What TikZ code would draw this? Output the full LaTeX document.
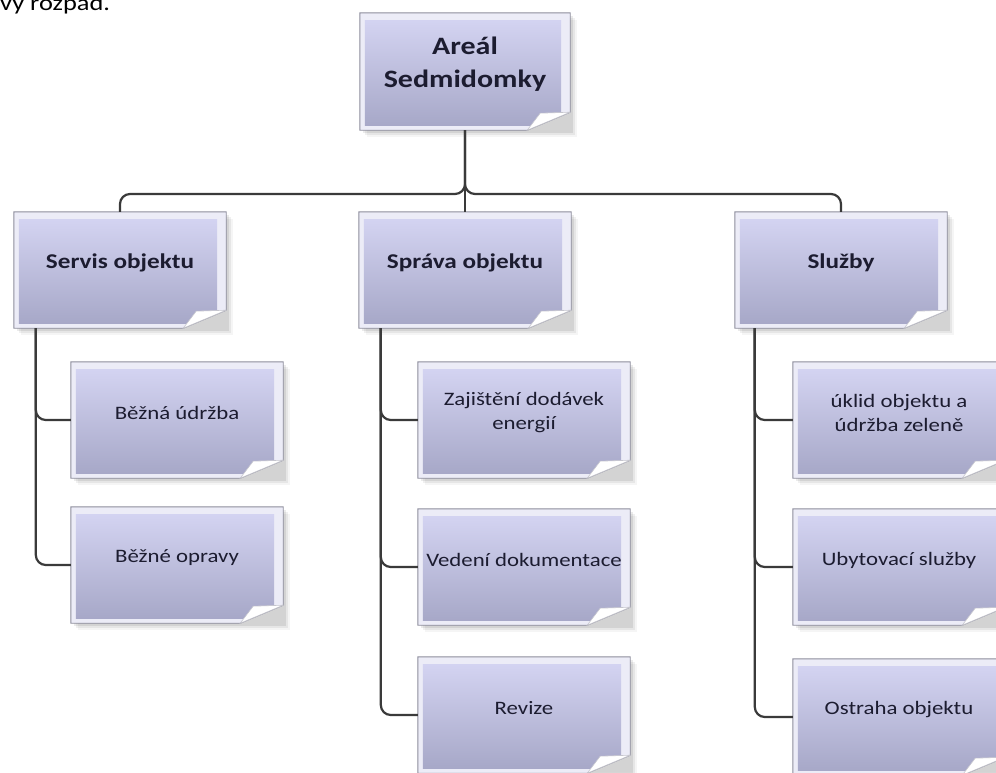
\documentclass[tikz,border=0pt]{standalone}
\usepackage{fontspec}
\setmainfont{Carlito}[FakeStretch=1.2]
\usetikzlibrary{calc}
\definecolor{boxtop}{HTML}{D3D3F1}
\definecolor{boxbot}{HTML}{A7A8C8}
\definecolor{ring}{HTML}{ECECF7}
\definecolor{edge}{HTML}{8C8C9C}
\definecolor{conncol}{HTML}{3A3A3A}
\definecolor{txt}{HTML}{1C1C30}
\tikzset{
  boxbase/.style={rectangle, inner sep=0pt, minimum width=212pt, minimum height=116pt},
  rootbox/.style={boxbase, minimum width=210pt, minimum height=117pt},
  conn/.style={draw=conncol, line width=2.2pt, rounded corners=10pt},
  roottext/.style={font=\fontsize{25}{33}\selectfont\bfseries, text=txt, align=center, inner sep=0pt},
  headtext/.style={font=\fontsize{21}{26}\selectfont\bfseries, text=txt, align=center, inner sep=0pt},
  leaftext/.style={font=\fontsize{19}{24}\selectfont, text=txt, align=center, inner sep=0pt},
}
\newcommand{\notebox}[5]{%
  \node[#2] (#1) at #3 {};
  \foreach \s/\o in {7/0.04,5/0.06,3/0.08}{
    \fill[black, opacity=\o] ($(#1.north west)+(\s pt,-\s pt)$) rectangle ($(#1.south east)+(\s pt,-\s pt)$);
  }
  \begin{scope}
    \clip (#1.north west) -- (#1.north east) -- ([yshift=18pt]#1.south east) -- ([xshift=-43pt]#1.south east) -- (#1.south west) -- cycle;
    \fill[ring] (#1.north west) rectangle (#1.south east);
    \shade[top color=boxtop, bottom color=boxbot] ([shift={(5pt,-8pt)}]#1.north west) rectangle ([shift={(-9pt,5pt)}]#1.south east);
  \end{scope}
  \draw[edge, line width=0.9pt] (#1.north west) -- (#1.north east) -- ([yshift=18pt]#1.south east) -- ([xshift=-43pt]#1.south east) -- (#1.south west) -- cycle;
  \filldraw[fill=white, draw=edge!50, line width=0.6pt] ([xshift=-43pt]#1.south east) .. controls ([shift={(-36pt,8pt)}]#1.south east) .. ([shift={(-30pt,17pt)}]#1.south east) -- ([yshift=18pt]#1.south east) -- cycle;
  \node[#4] (#1-t) at ([yshift=7pt]#1.center) {#5};
}
\begin{document}
\begin{tikzpicture}[x=1pt, y=-1pt]
\useasboundingbox (0,0) rectangle (996,772);
\clip (0,0) rectangle (996,772);
\fill[white] (0,0) rectangle (996,772);

\node[anchor=base west, font=\fontsize{22}{26}\selectfont, inner sep=0pt, text=black] (cap) at (0,10) {vý rozpad.};

\notebox{root}{rootbox}{(465,71.5)}{roottext}{Areál\\Sedmidomky}
\notebox{l1}{boxbase}{(120,270)}{headtext}{Servis objektu}
\notebox{l2}{boxbase}{(465,270)}{headtext}{Správa objektu}
\notebox{l3}{boxbase}{(841,270)}{headtext}{Služby}

\notebox{c11}{boxbase}{(177,420)}{leaftext}{Běžná údržba}
\notebox{c12}{boxbase}{(177,565)}{leaftext}{Běžné opravy}
\notebox{c21}{boxbase}{(524,420)}{leaftext}{Zajištění dodávek\\energií}
\notebox{c22}{boxbase}{(524,567)}{leaftext}{Vedení dokumentace}
\notebox{c23}{boxbase}{(524,715)}{leaftext}{Revize}
\notebox{c31}{boxbase}{(899,420)}{leaftext}{úklid objektu a\\údržba zeleně}
\notebox{c32}{boxbase}{(899,567)}{leaftext}{Ubytovací služby}
\notebox{c33}{boxbase}{(899,717)}{leaftext}{Ostraha objektu}

\coordinate (hub) at (465,194);
\draw[conn] (root.south) -- (l2.north);
\draw[conn] (l1.north) |- (hub) -- (root.south);
\draw[conn] (l3.north) |- (hub) -- (root.south);

\draw[conn] ([xshift=22pt]l1.south west) |- (c11.west);
\draw[conn] ([xshift=22pt]l1.south west) |- (c12.west);
\draw[conn] ([xshift=22pt]l2.south west) |- (c21.west);
\draw[conn] ([xshift=22pt]l2.south west) |- (c22.west);
\draw[conn] ([xshift=22pt]l2.south west) |- (c23.west);
\draw[conn] ([xshift=20pt]l3.south west) |- (c31.west);
\draw[conn] ([xshift=20pt]l3.south west) |- (c32.west);
\draw[conn] ([xshift=20pt]l3.south west) |- (c33.west);
\end{tikzpicture}
\end{document}
